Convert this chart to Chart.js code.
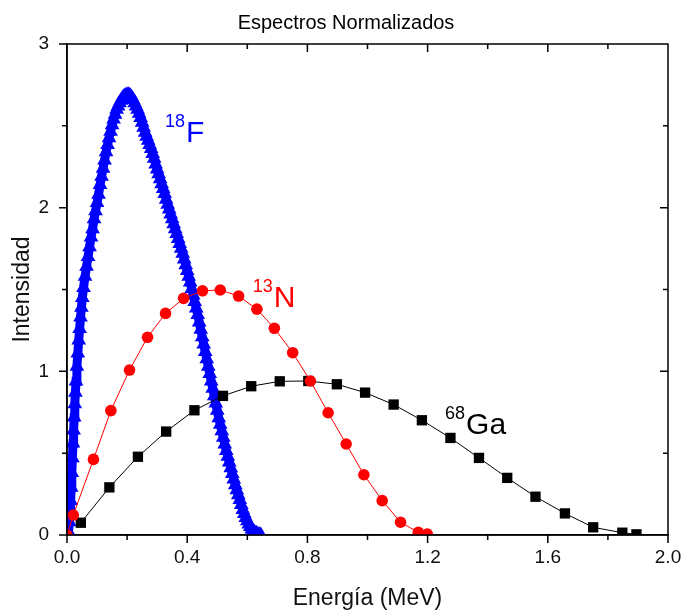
<!DOCTYPE html>
<html>
<head>
<meta charset="utf-8">
<title>Espectros Normalizados</title>
<script src="https://cdn.jsdelivr.net/npm/chart.js@4.4.1/dist/chart.umd.min.js"></script>
<style>
  html, body { margin: 0; padding: 0; background: #fff; }
  #wrap { width: 683px; height: 614px; }
</style>
</head>
<body>
<div id="wrap"><canvas id="spectraChart"></canvas></div>
<script>
// 18F spectrum (blue triangles)
const f18Energy = [
  0.002, 0.005, 0.008, 0.010, 0.012, 0.014, 0.016, 0.018, 0.020, 0.022, 0.024,
  0.026, 0.028, 0.030, 0.033, 0.036, 0.039, 0.042, 0.045, 0.048, 0.051, 0.055,
  0.060, 0.065, 0.070, 0.075, 0.080, 0.085, 0.090, 0.095, 0.100, 0.105, 0.110,
  0.115, 0.120, 0.125, 0.130, 0.135, 0.140, 0.145, 0.150, 0.155, 0.160, 0.165,
  0.170, 0.175, 0.180, 0.185, 0.190, 0.195, 0.200, 0.205, 0.210, 0.215, 0.220,
  0.225, 0.230, 0.235, 0.240, 0.245, 0.250, 0.255, 0.260, 0.265, 0.270, 0.275,
  0.280, 0.285, 0.290, 0.295, 0.300, 0.305, 0.310, 0.315, 0.320, 0.325, 0.330,
  0.335, 0.340, 0.345, 0.350, 0.355, 0.360, 0.365, 0.370, 0.375, 0.380, 0.385,
  0.390, 0.395, 0.400, 0.405, 0.410, 0.415, 0.420, 0.425, 0.430, 0.435, 0.440,
  0.445, 0.450, 0.455, 0.460, 0.465, 0.470, 0.475, 0.480, 0.485, 0.490, 0.495,
  0.500, 0.505, 0.510, 0.515, 0.520, 0.525, 0.530, 0.535, 0.540, 0.545, 0.550,
  0.555, 0.560, 0.565, 0.570, 0.575, 0.580, 0.585, 0.590, 0.595, 0.600, 0.605,
  0.610, 0.615, 0.620, 0.625, 0.630, 0.635, 0.640, 0.645
];
const f18Intensity = [
  0.00, 0.02, 0.08, 0.14, 0.21, 0.29, 0.38, 0.47, 0.56, 0.64, 0.72,
  0.80, 0.87, 0.94, 1.03, 1.11, 1.19, 1.26, 1.33, 1.39, 1.45, 1.51,
  1.58, 1.64, 1.70, 1.76, 1.82, 1.87, 1.93, 1.98, 2.03, 2.08, 2.14,
  2.19, 2.24, 2.29, 2.34, 2.385, 2.425, 2.465, 2.505, 2.54, 2.57, 2.60,
  2.62, 2.64, 2.655, 2.67, 2.68, 2.685, 2.69, 2.69, 2.685, 2.675, 2.66,
  2.64, 2.62, 2.60, 2.575, 2.55, 2.52, 2.49, 2.46, 2.435, 2.41, 2.385,
  2.36, 2.33, 2.30, 2.265, 2.235, 2.205, 2.175, 2.145, 2.115, 2.085, 2.05,
  2.02, 1.99, 1.96, 1.93, 1.90, 1.87, 1.84, 1.81, 1.78, 1.75, 1.72,
  1.685, 1.65, 1.615, 1.58, 1.545, 1.505, 1.465, 1.425, 1.385, 1.345, 1.30,
  1.255, 1.21, 1.165, 1.12, 1.075, 1.03, 0.985, 0.94, 0.895, 0.85, 0.805,
  0.76, 0.715, 0.675, 0.635, 0.595, 0.555, 0.515, 0.48, 0.445, 0.41, 0.375,
  0.34, 0.305, 0.275, 0.245, 0.215, 0.185, 0.155, 0.13, 0.105, 0.085, 0.065,
  0.05, 0.035, 0.025, 0.015, 0.01, 0.005, 0.002, 0.0
];

// 13N spectrum (red circles)
const n13Energy = [0.0, 0.021, 0.088, 0.146, 0.208, 0.268, 0.328, 0.388, 0.451, 0.510, 0.571,
  0.632, 0.690, 0.751, 0.810, 0.869, 0.929, 0.988, 1.049, 1.110, 1.169, 1.199];
const n13Intensity = [0.0, 0.122, 0.462, 0.760, 1.008, 1.208, 1.354, 1.446, 1.492, 1.497, 1.460,
  1.380, 1.263, 1.114, 0.941, 0.747, 0.556, 0.368, 0.210, 0.078, 0.016, 0.006];

// 68Ga spectrum (black squares)
const ga68Energy = [0.046, 0.141, 0.236, 0.330, 0.424, 0.519, 0.613, 0.708, 0.803, 0.898, 0.992,
  1.087, 1.181, 1.276, 1.371, 1.465, 1.559, 1.657, 1.751, 1.848, 1.895];
const ga68Intensity = [0.075, 0.291, 0.478, 0.632, 0.762, 0.850, 0.909, 0.939, 0.941, 0.921, 0.870,
  0.797, 0.701, 0.593, 0.471, 0.349, 0.234, 0.132, 0.047, 0.014, 0.004];

// Axis ticks
const xTickLabels = ["0.0", "0.4", "0.8", "1.2", "1.6", "2.0"];
const yTickLabels = ["0", "1", "2", "3"];

function toPoints(xs, ys) {
  return xs.map((x, i) => ({ x: x, y: ys[i] }));
}

const FONT = '"Liberation Sans", Arial, Helvetica, sans-serif';
Chart.defaults.font.family = FONT;
Chart.defaults.color = "#000";

// Frame, mirror ticks, title and isotope labels
const decorPlugin = {
  id: "decor",
  afterDraw(chart) {
    const { ctx, chartArea: a, scales: { x, y } } = chart;
    ctx.save();
    ctx.strokeStyle = "#000";
    ctx.lineWidth = 1.5;
    ctx.beginPath();
    ctx.rect(a.left, a.top, a.right - a.left, a.bottom - a.top);

    // x ticks: outward at bottom, inward at top
    x.ticks.forEach((t) => {
      const px = x.getPixelForValue(t.value);
      const major = Math.round(t.value * 10) % 4 === 0;
      const len = major ? 8 : 5;
      ctx.moveTo(px, a.bottom);
      ctx.lineTo(px, a.bottom + len);
      ctx.moveTo(px, a.top);
      ctx.lineTo(px, a.top + len);
    });
    // y ticks: outward at left, inward at right
    y.ticks.forEach((t) => {
      const py = y.getPixelForValue(t.value);
      const major = Math.abs(t.value - Math.round(t.value)) < 1e-6;
      const len = major ? 8 : 5;
      ctx.moveTo(a.left, py);
      ctx.lineTo(a.left - len, py);
      ctx.moveTo(a.right, py);
      ctx.lineTo(a.right - len, py);
    });
    ctx.stroke();

    // Title
    ctx.fillStyle = "#000";
    ctx.font = "20px " + FONT;
    ctx.textAlign = "center";
    ctx.textBaseline = "alphabetic";
    ctx.fillText("Espectros Normalizados", 346, 29);

    // Isotope labels: superscript mass number + symbol
    const labels = [
      { sup: "18", sym: "F", x: 0.326, y: 2.403, color: "#0000ff" },
      { sup: "13", sym: "N", x: 0.618, y: 1.395, color: "#ff0000" },
      { sup: "68", sym: "Ga", x: 1.258, y: 0.617, color: "#000000" },
    ];
    ctx.textAlign = "left";
    labels.forEach((l) => {
      const px = x.getPixelForValue(l.x);
      const py = y.getPixelForValue(l.y);
      ctx.fillStyle = l.color;
      ctx.font = "18px " + FONT;
      ctx.fillText(l.sup, px, py - 15);
      const w = ctx.measureText(l.sup).width;
      ctx.font = "30px " + FONT;
      ctx.fillText(l.sym, px + w + 1, py);
    });
    ctx.restore();
  },
};

const spectraChart = new Chart(document.getElementById("spectraChart"), {
  type: "scatter",
  data: {
    datasets: [
      {
        label: "13N",
        data: toPoints(n13Energy, n13Intensity),
        showLine: true,
        borderColor: "#ff0000",
        borderWidth: 1,
        backgroundColor: "#ff0000",
        pointStyle: "circle",
        pointRadius: 5.8,
        pointBorderWidth: 0,
        tension: 0,
      },
      {
        label: "68Ga",
        data: toPoints(ga68Energy, ga68Intensity),
        showLine: true,
        borderColor: "#000000",
        borderWidth: 1,
        backgroundColor: "#000000",
        pointStyle: "rect",
        pointRadius: 7.3,
        pointBorderWidth: 0,
        tension: 0,
      },
      {
        label: "18F",
        data: toPoints(f18Energy, f18Intensity),
        showLine: true,
        borderColor: "#0000ff",
        borderWidth: 9,
        backgroundColor: "#0000ff",
        pointStyle: "triangle",
        pointRadius: 8.5,
        pointBorderWidth: 0,
        tension: 0,
      },
    ],
  },
  options: {
    responsive: true,
    maintainAspectRatio: false,
    animation: false,
    events: [],
    layout: { padding: { top: 44, right: 15, left: 0, bottom: 0 } },
    plugins: {
      legend: { display: false },
      title: { display: false },
      tooltip: { enabled: false },
    },
    scales: {
      x: {
        type: "linear",
        min: 0,
        max: 2,
        afterFit: (scale) => {
          scale.height = 79;
          scale.paddingLeft = 0;
          scale.paddingRight = 0;
        },
        grid: { display: false, drawTicks: false },
        border: { display: true, color: "#000", width: 1.5 },
        ticks: {
          stepSize: 0.2,
          autoSkip: false,
          maxRotation: 0,
          padding: 11,
          font: { size: 19 },
          color: "#111",
          callback: (v) => {
            const i = Math.round(v * 10);
            return i % 4 === 0 ? xTickLabels[i / 4] : "";
          },
        },
        title: {
          display: true,
          text: "Energía (MeV)",
          font: { size: 23 },
          color: "#111",
          padding: { top: 0, bottom: 2 },
        },
      },
      y: {
        type: "linear",
        min: 0,
        max: 3,
        afterFit: (scale) => {
          scale.width = 67;
          scale.paddingTop = 0;
          scale.paddingBottom = 0;
        },
        grid: { display: false, drawTicks: false },
        border: { display: true, color: "#000", width: 1.5 },
        ticks: {
          stepSize: 0.5,
          autoSkip: false,
          padding: 18,
          font: { size: 19 },
          color: "#111",
          callback: (v) => (Number.isInteger(v) ? yTickLabels[v] : ""),
        },
        title: {
          display: true,
          text: "Intensidad",
          font: { size: 23 },
          color: "#111",
          padding: { top: 9, bottom: 0 },
        },
      },
    },
  },
  plugins: [decorPlugin],
});
</script>
</body>
</html>
